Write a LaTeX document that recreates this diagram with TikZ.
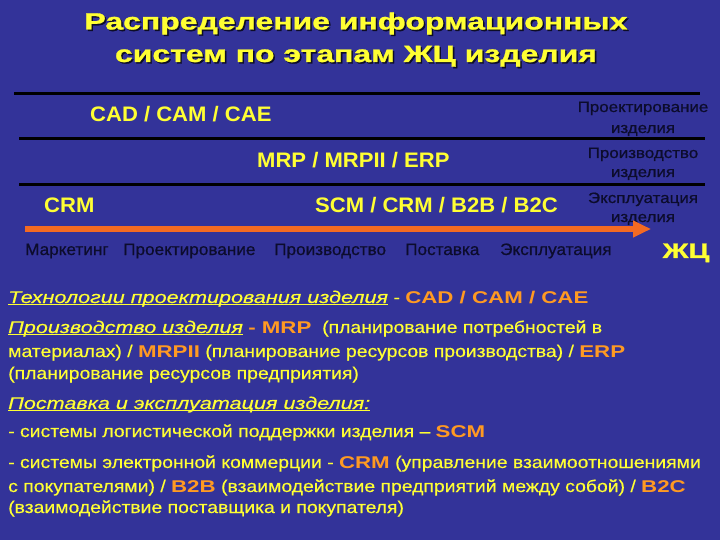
\documentclass[tikz,border=0pt]{standalone}
\usepackage{fontspec}
\setmainfont{Liberation Sans}
\newfontfamily\ttlfont[FakeStretch=1.36,FakeBold=1.2]{Liberation Sans}
\newfontfamily\bodyfont[FakeStretch=1.14,FakeBold=0.4]{Liberation Sans}
\newfontfamily\hdfont[FakeStretch=1.27,FakeBold=0.4]{Liberation Sans}
\newfontfamily\kwfont[FakeStretch=1.31]{Liberation Sans}
\newfontfamily\sysfont[FakeStretch=1.05]{Liberation Sans}
\newfontfamily\stgfont[FakeStretch=1.13,FakeBold=0.7]{Liberation Sans}
\newfontfamily\phfont[FakeStretch=1.04,FakeBold=0.7]{Liberation Sans}
\usetikzlibrary{arrows.meta}
\definecolor{bg}{HTML}{333399}
\definecolor{ylw}{HTML}{FFFF33}
\definecolor{org}{HTML}{FF9A22}
\definecolor{dark}{HTML}{0C0C2C}
\definecolor{arr}{HTML}{F46A22}
\newcommand{\kw}[1]{{\kwfont\bfseries\color{org}#1}}
\newcommand{\hd}[1]{\setbox0\hbox{\hdfont\itshape #1}\rlap{\rule[-2.4pt]{\wd0}{1.3pt}}\box0\relax}
\tikzset{
  ttl/.style={anchor=base, text=ylw, font=\fontsize{23.5}{28}\ttlfont\bfseries\selectfont, inner sep=0},
  ttlsh/.style={anchor=base, text=black!75!bg, font=\fontsize{23.5}{28}\ttlfont\bfseries\selectfont, inner sep=0},
  sys/.style={anchor=base west, text=ylw, font=\fontsize{21}{24}\sysfont\bfseries\selectfont, inner sep=0},
  stage/.style={anchor=base, text=dark, font=\fontsize{15}{17}\stgfont\selectfont, inner sep=0},
  phase/.style={anchor=base west, text=dark, font=\fontsize{16.5}{19}\phfont\selectfont, inner sep=0},
  body/.style={anchor=base west, text=ylw, font=\fontsize{17}{20}\bodyfont\selectfont, inner sep=0},
  rule/.style={line width=3pt, black},
}
\begin{document}
\begin{tikzpicture}[x=1pt,y=-1pt]
\fill[bg] (0,0) rectangle (720,540);
\useasboundingbox (0,0) rectangle (720,540);
% title
\node[ttlsh] (t1s) at (357.5,31) {Распределение информационных};
\node[ttlsh] (t2s) at (357.5,63.5) {систем по этапам ЖЦ изделия};
\node[ttl] (t1) at (356,29.5) {Распределение информационных};
\node[ttl] (t2) at (356,62) {систем по этапам ЖЦ изделия};
% rules
\coordinate (r1a) at (14,94); \coordinate (r1b) at (700,94);
\coordinate (r2a) at (19,139); \coordinate (r2b) at (705,139);
\coordinate (r3a) at (19,185); \coordinate (r3b) at (705,185);
\draw[rule] (r1a) -- (r1b);
\draw[rule] (r2a) -- (r2b);
\draw[rule] (r3a) -- (r3b);
% systems
\node[sys] (cad) at (90,122) {CAD / CAM / CAE};
\node[sys] (mrp) at (257,168) {MRP / MRPII / ERP};
\node[sys] (crm) at (44,213) {CRM};
\node[sys] (scm) at (315,213) {SCM / CRM / B2B / B2C};
% stages
\node[stage] (s1a) at (643,112) {Проектирование};
\node[stage] (s1b) at (643,133) {изделия};
\node[stage] (s2a) at (643,158) {Производство};
\node[stage] (s2b) at (643,177) {изделия};
\node[stage] (s3a) at (643,203) {Эксплуатация};
\node[stage] (s3b) at (643,222) {изделия};
% arrow
\coordinate (aa) at (25,229); \coordinate (ab) at (651,229);
\draw[arr, line width=6pt, -{Triangle[length=18pt,width=16pt]}] (aa) -- (ab);
% phases
\node[phase] (p1) at (25,255) {Маркетинг};
\node[phase] (p2) at (123,255) {Проектирование};
\node[phase] (p3) at (274,255) {Производство};
\node[phase] (p4) at (405,255) {Поставка};
\node[phase] (p5) at (500,255) {Эксплуатация};
\node[sys, anchor=base, font=\fontsize{21}{24}\ttlfont\bfseries\selectfont] (zc) at (686,258) {ЖЦ};
% body
\node[body] (b1) at (8,303) {\hd{Технологии проектирования изделия} - \kw{CAD / CAM / CAE}};
\node[body] (b2) at (8,333) {\hd{Производство изделия} \kw{- MRP} \ (планирование потребностей в};
\node[body] (b3) at (8,357) {материалах) / \kw{MRPII} (планирование ресурсов производства) / \kw{ERP}};
\node[body] (b4) at (8,379) {(планирование ресурсов предприятия)};
\node[body] (b5) at (8,409) {\hd{Поставка и эксплуатация изделия:}};
\node[body] (b6) at (8,437) {- системы логистической поддержки изделия – \kw{SCM}};
\node[body] (b7) at (8,468) {- системы электронной коммерции - \kw{CRM} (управление взаимоотношениями};
\node[body] (b8) at (8,492) {с покупателями) / \kw{B2B} (взаимодействие предприятий между собой) / \kw{B2C}};
\node[body] (b9) at (8,513) {(взаимодействие поставщика и покупателя)};
\end{tikzpicture}
\end{document}
